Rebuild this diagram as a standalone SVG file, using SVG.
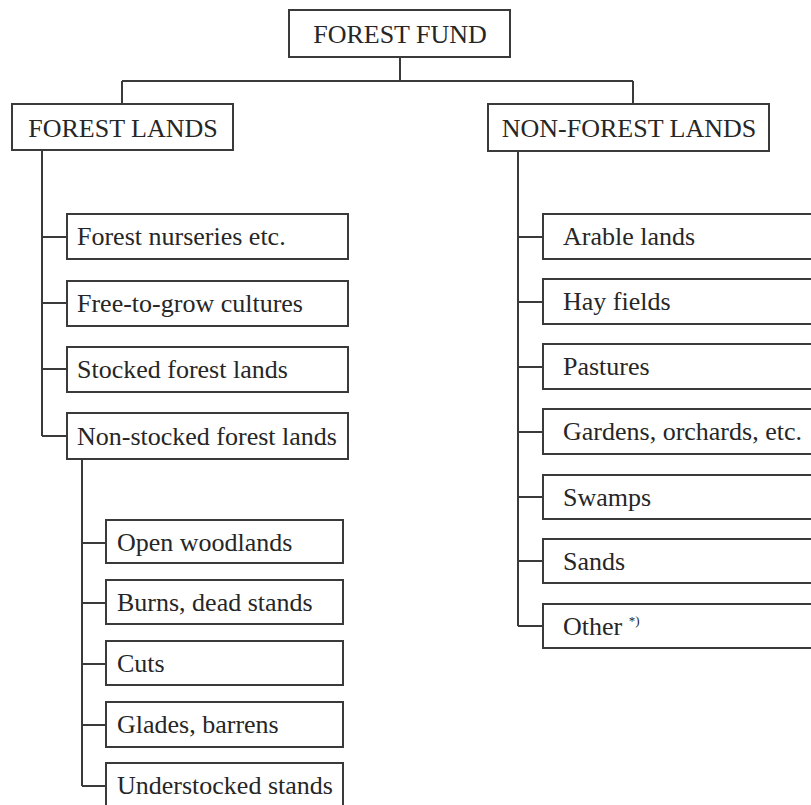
<svg xmlns="http://www.w3.org/2000/svg" width="811" height="805" viewBox="0 0 811 805">
<style>
  .box { fill: #ffffff; stroke: #3a3a3a; stroke-width: 2; }
  .lbl { font-family: "Liberation Serif", "Times New Roman", serif; font-size: 26px; fill: #262626; }
  .mid { text-anchor: middle; }
  .con { fill: none; stroke: #3a3a3a; stroke-width: 2; }
  .sup { font-size: 13px; }
</style>
<rect x="0" y="0" width="811" height="805" fill="#ffffff"/>
<g id="connectors">
  <path class="con" d="M400,57 V81 M122,81 H633 M122,81 V104 M633,81 V104"/>
  <path class="con" d="M42,150 V436 M42,237 H67 M42,303 H67 M42,369 H67 M42,436 H67"/>
  <path class="con" d="M82,459 V786 M82,543 H106 M82,603 H106 M82,664 H106 M82,725 H106 M82,786 H106"/>
  <path class="con" d="M518,151 V626 M518,237 H543 M518,302 H543 M518,367 H543 M518,432 H543 M518,497 H543 M518,561 H543 M518,626 H543"/>
</g>
<g id="forest-fund"><rect class="box" x="289" y="10" width="221" height="47"/><text class="lbl mid" x="400" y="43">FOREST FUND</text></g>
<g id="forest-lands"><rect class="box" x="12" y="104" width="221" height="46"/><text class="lbl mid" x="123" y="137">FOREST LANDS</text></g>
<g id="non-forest-lands"><rect class="box" x="488" y="104" width="281" height="47"/><text class="lbl mid" x="629" y="137">NON-FOREST LANDS</text></g>

<g id="forest-nurseries"><rect class="box" x="67" y="214" width="281" height="45"/><text class="lbl" x="77" y="245">Forest nurseries etc.</text></g>
<g id="free-to-grow"><rect class="box" x="67" y="281" width="281" height="45"/><text class="lbl" x="77" y="312">Free-to-grow cultures</text></g>
<g id="stocked"><rect class="box" x="67" y="347" width="281" height="45"/><text class="lbl" x="77" y="378">Stocked forest lands</text></g>
<g id="non-stocked"><rect class="box" x="67" y="413" width="281" height="46"/><text class="lbl" x="77" y="445">Non-stocked forest lands</text></g>

<g id="open-woodlands"><rect class="box" x="106" y="520" width="237" height="43"/><text class="lbl" x="117" y="551">Open woodlands</text></g>
<g id="burns"><rect class="box" x="106" y="580" width="237" height="44"/><text class="lbl" x="117" y="611">Burns, dead stands</text></g>
<g id="cuts"><rect class="box" x="106" y="641" width="237" height="44"/><text class="lbl" x="117" y="672">Cuts</text></g>
<g id="glades"><rect class="box" x="106" y="702" width="237" height="45"/><text class="lbl" x="117" y="733">Glades, barrens</text></g>
<g id="understocked"><rect class="box" x="106" y="763" width="237" height="50"/><text class="lbl" x="117" y="794">Understocked stands</text></g>

<g id="arable"><rect class="box" x="543" y="214" width="275" height="45"/><text class="lbl" x="563" y="245">Arable lands</text></g>
<g id="hay"><rect class="box" x="543" y="279" width="275" height="45"/><text class="lbl" x="563" y="310">Hay fields</text></g>
<g id="pastures"><rect class="box" x="543" y="344" width="275" height="45"/><text class="lbl" x="563" y="375">Pastures</text></g>
<g id="gardens"><rect class="box" x="543" y="409" width="275" height="45"/><text class="lbl" x="563" y="440">Gardens, orchards, etc.</text></g>
<g id="swamps"><rect class="box" x="543" y="475" width="275" height="44"/><text class="lbl" x="563" y="506">Swamps</text></g>
<g id="sands"><rect class="box" x="543" y="539" width="275" height="44"/><text class="lbl" x="563" y="570">Sands</text></g>
<g id="other"><rect class="box" x="543" y="604" width="275" height="44"/><text class="lbl" x="563" y="635">Other <tspan class="sup" dy="-10">*)</tspan></text></g>
</svg>
